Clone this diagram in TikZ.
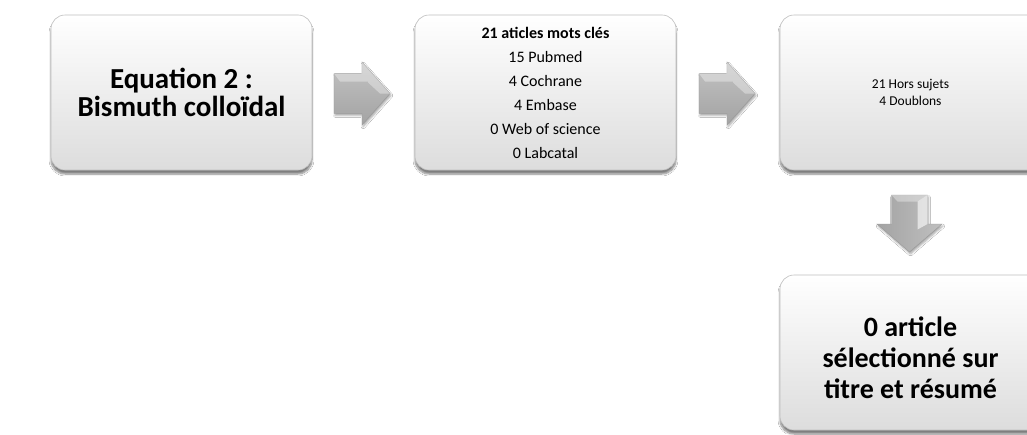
\documentclass[tikz,border=0pt]{standalone}
\usepackage{fontspec}
\setmainfont{Carlito}
\usetikzlibrary{shadows.blur,calc}
\begin{document}
\begin{tikzpicture}[x=1pt,y=-1pt,
  box/.style={draw=gray!50, line width=0.6pt, rounded corners=14pt,
    top color=white, bottom color=gray!27, align=center,
    blur shadow={shadow xshift=0pt, shadow yshift=-4pt, shadow blur steps=6, shadow opacity=50},
    inner sep=0pt, minimum width=261pt, minimum height=155pt},
  bigtext/.style={font=\bfseries\fontsize{29}{28}\selectfont},
  midtext/.style={font=\fontsize{16}{24}\selectfont},
  smalltext/.style={font=\fontsize{13.5}{17}\selectfont},
  arrowbody/.style={draw=gray!80, line width=0.4pt, line join=miter,
    top color=gray!48, bottom color=gray!72,
    blur shadow={shadow xshift=1pt, shadow yshift=-2pt, shadow blur steps=4, shadow opacity=35}},
  downbody/.style={draw=gray!80, line width=0.4pt, line join=miter,
    left color=gray!72, right color=gray!50,
    blur shadow={shadow xshift=1pt, shadow yshift=-2pt, shadow blur steps=4, shadow opacity=35}},
  bevel/.style={fill=white, fill opacity=0.35, draw=none}
]
\useasboundingbox (0,0) rectangle (1027,434);
\clip (0,0) rectangle (1027,434);
\fill[white] (0,0) rectangle (1027,434);

\node[box, bigtext] (b1) at (181.5,92.5)
  {Equation 2 :\\Bismuth colloïdal};
\node[box, midtext] (b2) at (545.5,92.5)
  {\textbf{21 aticles mots clés}\\15 Pubmed\\4 Cochrane\\4 Embase\\0 Web of science\\0 Labcatal};
\node[box, smalltext] (b3) at (910.5,92.5)
  {21 Hors sujets\\4 Doublons};
\node[box] (b4) at (910.5,352.5) {};
\node[font=\bfseries\fontsize{28}{31}\selectfont, align=center, inner sep=0pt]
  (t4) at ([yshift=-5pt]b4.center) {0 article\\sélectionné sur\\titre et résumé};

% right arrows
\coordinate (a1) at ($(b1.east)!0.5!(b2.west)$);
\coordinate (a2) at ($(b2.east)!0.5!(b3.west)$);
\foreach \c/\dx in {a1/-1.5,a2/-1}{
  \begin{scope}[shift={(\c)}, xshift=\dx pt, yshift=-1pt]
    \path[arrowbody] (-28,-20) -- (0,-20) -- (0,-31.5) -- (28,0) -- (0,31.5) -- (0,20) -- (-28,20) -- cycle;
    \path[bevel] (-28,-20) -- (0,-20) -- (0,-31.5) -- (28,0) -- (18,0) -- (6,-11) -- (6,-12) -- (-22,-12) -- cycle;
  \end{scope}
}
% down arrow
\coordinate (a3) at ($(b3.south)!0.5!(b4.north)$);
\begin{scope}[shift={(a3)}, xshift=-1pt, yshift=-1pt]
  \path[downbody] (-18,-28.5) -- (18,-28.5) -- (18,0.5) -- (32.5,0.5) -- (0,28.5) -- (-32.5,0.5) -- (-18,0.5) -- cycle;
  \path[fill=white, fill opacity=0.6] (8,-22) -- (18,-28.5) -- (18,0.5) -- (8,6) -- cycle;
  \path[bevel] (-18,-28.5) -- (18,-28.5) -- (8,-22) -- (-12,-22) -- cycle;
\end{scope}
\end{tikzpicture}
\end{document}
